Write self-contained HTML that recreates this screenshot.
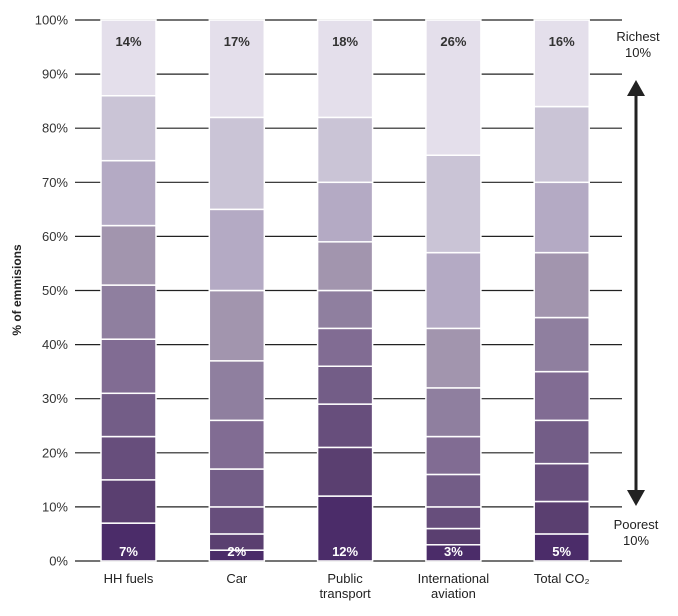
<!DOCTYPE html>
<html><head><meta charset="utf-8"><style>
body{margin:0;background:#fff;font-family:"Liberation Sans",sans-serif;}
</style></head><body>
<svg id="chart" width="678" height="611" viewBox="0 0 678 611" xmlns="http://www.w3.org/2000/svg">
<g id="grid"></g><g id="bars"></g><g id="labels"></g>
<text transform="translate(21,290) rotate(-90)" text-anchor="middle" font-size="12" font-weight="bold" fill="#222">% of emmisions</text>
<g>
<line x1="636" y1="95" x2="636" y2="490" stroke="#222" stroke-width="3"/>
<polygon points="636,80 627,96 645,96" fill="#222"/>
<polygon points="636,506 627,490 645,490" fill="#222"/>
</g>
<text x="638" y="41" text-anchor="middle" font-size="13" fill="#222">Richest</text>
<text x="638" y="57" text-anchor="middle" font-size="13" fill="#222">10%</text>
<text x="636" y="529" text-anchor="middle" font-size="13" fill="#222">Poorest</text>
<text x="636" y="545" text-anchor="middle" font-size="13" fill="#222">10%</text>
</svg>
<script>
const categories=[["HH fuels"],["Car"],["Public","transport"],["International","aviation"],["Total CO₂"]];
const hhFuels=[7,8,8,8,10,10,11,12,12,14];
const car=[2,3,5,7,9,11,13,15,17,18];
const publicTransport=[12,9,8,7,7,7,9,11,12,18];
const aviation=[3,3,4,6,7,9,11,14,18,25];
const totalCO2=[5,6,7,8,9,10,12,13,14,16];
const series=[hhFuels,car,publicTransport,aviation,totalCO2];
const bottomLabels=["7%","2%","12%","3%","5%"];
const topLabels=["14%","17%","18%","26%","16%"];
const yTicks=[0,10,20,30,40,50,60,70,80,90,100];
const colors=["#4b2c69","#5a3f70","#674e7c","#735d87","#816c93","#8f7f9f","#a295ae","#b4aac4","#cac4d6","#e4dfeb"];
const NS="http://www.w3.org/2000/svg";
const y0=561,y1=20;
const yScale=v=>y0-(v/100)*(y0-y1);
const xStart=101,step=108.3,bw=55;
const xScale=i=>xStart+i*step;
function mk(t,a,p){const e=document.createElementNS(NS,t);for(const k in a)e.setAttribute(k,a[k]);p.appendChild(e);return e;}
const grid=document.getElementById('grid'),bars=document.getElementById('bars'),labels=document.getElementById('labels');
yTicks.forEach(t=>{
 const l=mk('line',{x1:75,x2:622,y1:yScale(t),y2:yScale(t),stroke:'#222','stroke-width':1.2},grid);
 
 
 const tx=mk('text',{x:68,y:yScale(t)+4.5,'text-anchor':'end','font-size':13,fill:'#333'},grid);
 tx.textContent=t+'%';
 
 
});
series.forEach((s,i)=>{
 let cum=0;const x=xScale(i);
 s.forEach((v,j)=>{
  const r=mk('rect',{x:x,y:yScale(cum+v),width:bw,height:yScale(cum)-yScale(cum+v),fill:colors[j],stroke:'#fff','stroke-width':1.5},bars);
  
  
  cum+=v;
 });
 const b=mk('text',{x:x+bw/2,y:yScale(0)-5,'text-anchor':'middle','font-size':13,'font-weight':'bold',fill:'#fff'},labels);
 b.textContent=bottomLabels[i];
 
 
 const tp=mk('text',{x:x+bw/2,y:yScale(100)+26,'text-anchor':'middle','font-size':13,'font-weight':'bold',fill:'#333'},labels);
 tp.textContent=topLabels[i];
 
 
 categories[i].forEach((line,k)=>{
  const c=mk('text',{x:x+bw/2,y:583+k*15,'text-anchor':'middle','font-size':13,fill:'#222'},labels);
  c.textContent=line;
  
  
 });
});
</script>
</body></html>
